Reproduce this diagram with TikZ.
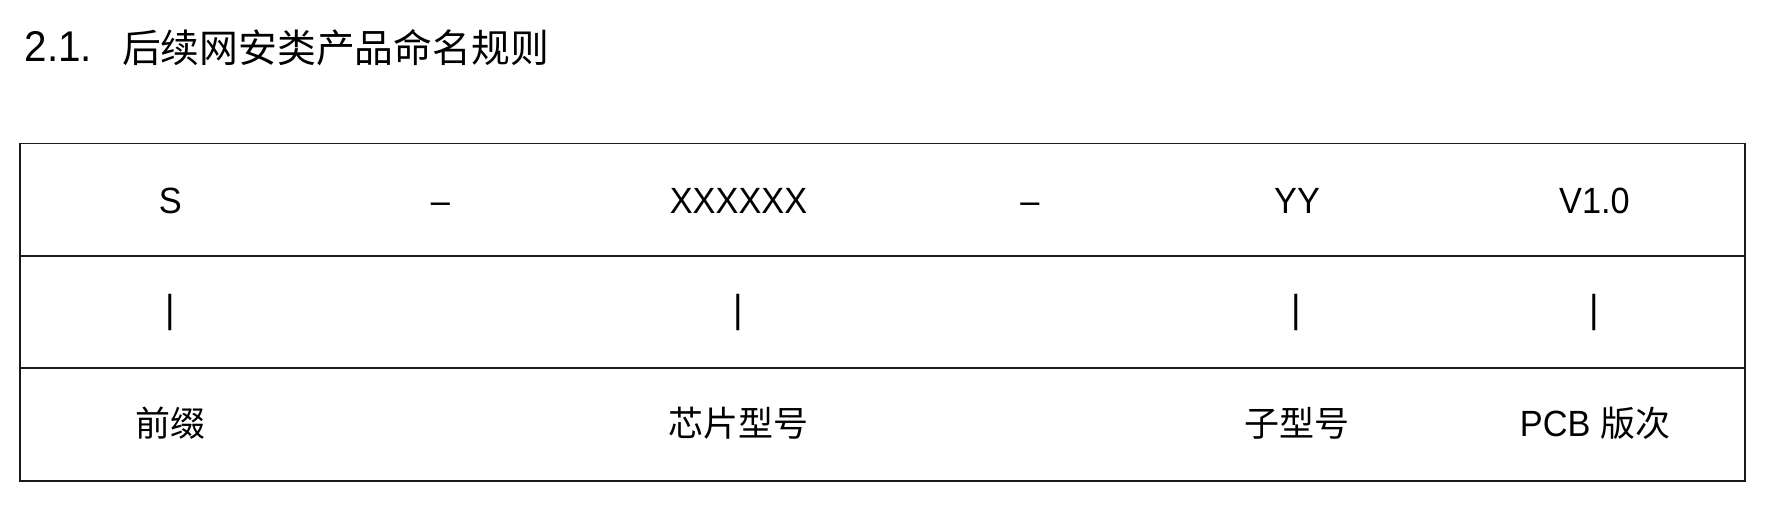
\documentclass[tikz,border=0pt]{standalone}
\usepackage{fontspec}
\setmainfont[FakeStretch=0.94]{Liberation Sans}
\newfontfamily\cjk{Noto Sans CJK SC}
\definecolor{rule}{HTML}{1A1A1A}
\begin{document}
\begin{tikzpicture}[x=1pt,y=-1pt,
  latin/.style={anchor=base, inner sep=0pt, font=\fontsize{36.5}{42}\selectfont},
  zh/.style={anchor=base, inner sep=0pt, font=\fontsize{35}{42}\selectfont\cjk},
  mixed/.style={anchor=base, inner sep=0pt, font=\fontsize{36.5}{42}\selectfont},
  bar/.style={anchor=center, inner sep=0pt, font=\fontsize{39}{44}\selectfont},
  titlenum/.style={anchor=base west, inner sep=0pt, font=\fontsize{43}{50}\selectfont},
  titlezh/.style={anchor=base west, inner sep=0pt, font=\fontsize{38.8}{46}\selectfont\cjk},
  grid/.style={line width=1.4pt, draw=rule}]
\useasboundingbox (0,0) rectangle (1770,522);
% title
\node[titlenum] (num) at (24.5,61) {2.1.};
\node[titlezh] (ttl) at (121.8,62) {后续网安类产品命名规则};
% table
\draw[grid] (20,143.3) rectangle (1745,481);
\draw[grid] (20,256) -- (1745,256);
\draw[grid] (20,368) -- (1745,368);
% row 1
\node[latin] (s) at (170.4,213) {S};
\node[latin] (d1) at (440.5,213) {–};
\node[latin] (x) at (738.5,213) {XXXXXX};
\node[latin] (d2) at (1030,213) {–};
\node[latin] (y) at (1297,213) {YY};
\node[latin] (v) at (1594.5,213) {V1.0};
% row 2
\node[bar] (b1) at (170.7,312) {|};
\node[bar] (b2) at (738.5,312) {|};
\node[bar] (b3) at (1296.5,312) {|};
\node[bar] (b4) at (1594,312) {|};
% row 3
\node[zh] (p) at (170.4,436.7) {前缀};
\node[zh] (c) at (738,436.7) {芯片型号};
\node[zh] (z) at (1296.5,436.7) {子型号};
\node[mixed] (pcb) at (1595,436.7) {PCB {\fontsize{35}{42}\selectfont\cjk 版次}};
\end{tikzpicture}
\end{document}
